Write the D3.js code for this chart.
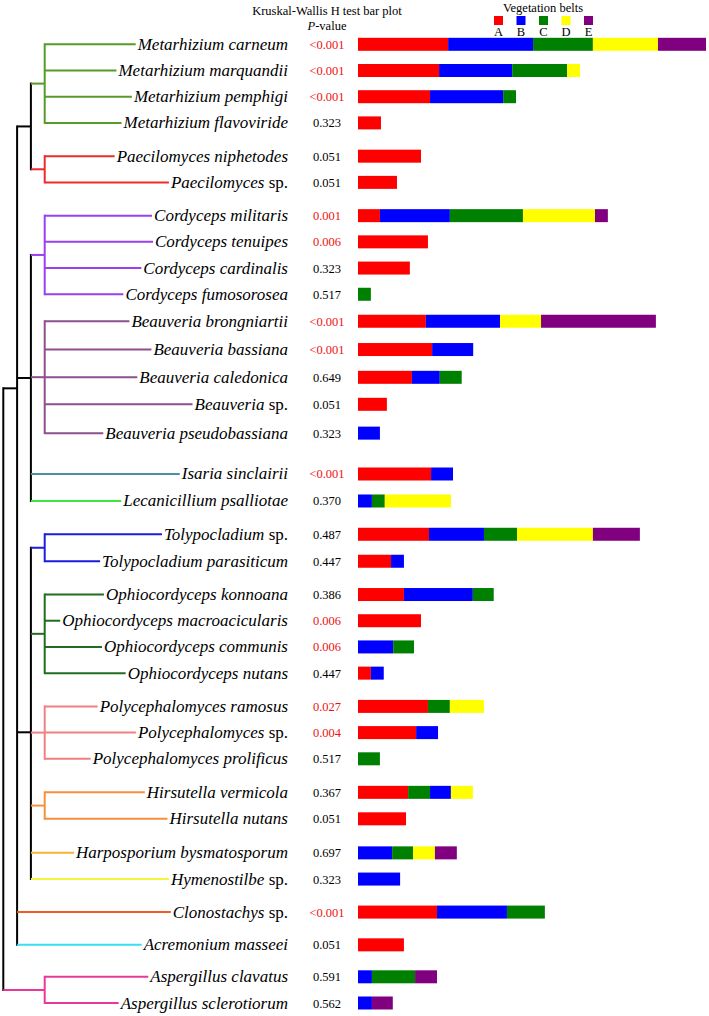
<!DOCTYPE html>
<html><head><meta charset="utf-8">
<script src="https://cdn.jsdelivr.net/npm/d3@7"></script>
<style>body{margin:0;background:#fff}svg{display:block}</style>
</head><body>
<svg id="c" width="709" height="1016"></svg>
<script>
// ---------- DATA ----------
const species = [
 "Metarhizium carneum","Metarhizium marquandii","Metarhizium pemphigi","Metarhizium flavoviride",
 "Paecilomyces niphetodes","Paecilomyces sp.",
 "Cordyceps militaris","Cordyceps tenuipes","Cordyceps cardinalis","Cordyceps fumosorosea",
 "Beauveria brongniartii","Beauveria bassiana","Beauveria caledonica","Beauveria sp.","Beauveria pseudobassiana",
 "Isaria sinclairii","Lecanicillium psalliotae",
 "Tolypocladium sp.","Tolypocladium parasiticum",
 "Ophiocordyceps konnoana","Ophiocordyceps macroacicularis","Ophiocordyceps communis","Ophiocordyceps nutans",
 "Polycephalomyces ramosus","Polycephalomyces sp.","Polycephalomyces prolificus",
 "Hirsutella vermicola","Hirsutella nutans",
 "Harposporium bysmatosporum","Hymenostilbe sp.",
 "Clonostachys sp.","Acremonium masseei",
 "Aspergillus clavatus","Aspergillus sclerotiorum"];
const pValues = ["<0.001","<0.001","<0.001","0.323","0.051","0.051","0.001","0.006","0.323","0.517",
 "<0.001","<0.001","0.649","0.051","0.323","<0.001","0.370","0.487","0.447","0.386","0.006","0.006","0.447",
 "0.027","0.004","0.517","0.367","0.051","0.697","0.323","<0.001","0.051","0.591","0.562"];
const belts = ["A","B","C","D","E"];
const beltA = [25.9,23.3,20.7,6.6,18.1,11.2,6.3,20.1,14.9,0, 19.5,21.3,15.5,8.3,0, 21.0,0, 20.4,9.5, 13.2,18.1,0,3.7, 20.1,16.7,0, 14.4,13.8, 0,0, 22.7,13.2, 0,0];
const beltB = [24.4,21.0,21.0,0,0,0,20.1,0,0,0, 21.3,11.8,8.0,0,6.3, 6.3,4.0, 15.8,3.7, 19.8,0,10.1,3.7, 0,6.3,0, 6.0,0, 9.8,12.1, 20.1,0, 4.0,4.0];
const beltC = [17.2,15.8,3.7,0,0,0,21.0,0,0,3.7, 0,0,6.3,0,0, 0,3.7, 9.5,0, 6.0,0,6.0,0, 6.3,0,6.3, 6.3,0, 6.0,0, 10.9,0, 12.4,0];
const beltD = [18.7,3.7,0,0,0,0,20.7,0,0,0, 11.8,0,0,0,0, 0,19.0, 21.8,0, 0,0,0,0, 9.8,0,0, 6.3,0, 6.3,0, 0,0, 0,0];
const beltE = [13.8,0,0,0,0,0,3.7,0,0,0, 33.0,0,0,0,0, 0,0, 13.5,0, 0,0,0,0, 0,0,0, 0,0, 6.3,0, 0,0, 6.3,6.0];
// stacking order of the belts in each bar (H. vermicola is drawn A, C, B, D)
const stackOrder = species.map(s => s === "Hirsutella vermicola" ? "ACBD" : "ABCDE");
const beltColors = {A:"#ff0000",B:"#0000ff",C:"#008000",D:"#ffff00",E:"#800080"};

// phylogeny (leaves refer to species names)
const tree = {children:[
  {attach:0.32, children:[
    {children:[
      {clade:"#569b27", children:species.slice(0,4).map(n=>({name:n}))},
      {clade:"#ee2a2a", children:species.slice(4,6).map(n=>({name:n}))}
    ]},
    {children:[
      {clade:"#9b40f0", children:species.slice(6,10).map(n=>({name:n}))},
      {clade:"#8e4f8e", children:species.slice(10,15).map(n=>({name:n}))},
      {name:"Isaria sinclairii", clade:"#4a8fa8"},
      {name:"Lecanicillium psalliotae", clade:"#3ce63c"}
    ]},
    {attach:0.557, children:[
      {clade:"#1c1ce0", children:species.slice(17,19).map(n=>({name:n}))},
      {clade:"#1f6e1f", children:species.slice(19,23).map(n=>({name:n}))},
      {clade:"#f28080", children:species.slice(23,26).map(n=>({name:n}))},
      {clade:"#f5913d", children:species.slice(26,28).map(n=>({name:n}))},
      {name:"Harposporium bysmatosporum", clade:"#f6b23a"},
      {name:"Hymenostilbe sp.", clade:"#f4f43a"}
    ]},
    {name:"Clonostachys sp.", clade:"#f25a24"},
    {name:"Acremonium masseei", clade:"#3ae0f0"}
  ]},
  {clade:"#e8389c", children:species.slice(32,34).map(n=>({name:n}))}
]};

// ---------- LAYOUT ----------
// row spacing before each species, in row units (group gaps)
const rowStep = [0,1,1,1,1.27,1,1.27,1,1,1,1.03,1.08,1.06,1.03,1.1,1.56,1.03,1.27,1.03,1.27,1,1,1,1.27,1,1,1.28,1.01,1.3,1,1.26,1.25,1.22,1];
const slots = d3.cumsum(rowStep);
const yRow = d3.scaleLinear().domain([0, slots[slots.length-1]]).range([44.3, 1003]);
const rowY = new Map(species.map((s,i)=>[s, yRow(slots[i])]));

const svg = d3.select("#c");
const serif = "'Liberation Serif','Times New Roman',serif";
const labelRight = 288, pX = 327;
const x = d3.scaleLinear().domain([0,100]).range([358,706]);
const barH = 13;

// ---------- HEADER ----------
svg.append("text").attr("x",pX).attr("y",15).attr("text-anchor","middle")
  .attr("font-family",serif).attr("font-size",12.5).text("Kruskal-Wallis H test bar plot");
const pv = svg.append("text").attr("x",pX).attr("y",30).attr("text-anchor","middle")
  .attr("font-family",serif).attr("font-size",12.5);
pv.append("tspan").attr("font-style","italic").text("P");
pv.append("tspan").text("-value");
svg.append("text").attr("x",543).attr("y",11.5).attr("text-anchor","middle")
  .attr("font-family",serif).attr("font-size",12.5).text("Vegetation belts");
const lx = d3.scalePoint().domain(belts).range([498.5,588.5]);
svg.selectAll(".lg").data(belts).join("rect")
  .attr("x",d=>lx(d)-4.5).attr("y",16).attr("width",9).attr("height",9).attr("fill",d=>beltColors[d]);
svg.selectAll(".lgt").data(belts).join("text")
  .attr("x",d=>lx(d)).attr("y",36).attr("text-anchor","middle")
  .attr("font-family",serif).attr("font-size",12.5).text(d=>d);

// ---------- LABELS ----------
const labelStart = new Map();
species.forEach((s,i)=>{
  const y = rowY.get(s);
  const t = svg.append("text").attr("x",labelRight).attr("y",y+5.5).attr("text-anchor","end")
    .attr("font-family",serif).attr("font-size",17);
  if (s.endsWith(" sp.")) {
    t.append("tspan").attr("font-style","italic").text(s.slice(0,-4));
    t.append("tspan").text(" sp.");
  } else {
    t.append("tspan").attr("font-style","italic").text(s);
  }
  labelStart.set(s, labelRight - t.node().getComputedTextLength());
  svg.append("text").attr("x",pX).attr("y",y+4.5).attr("text-anchor","middle")
    .attr("font-family",serif).attr("font-size",12.5)
    .attr("fill", (pValues[i].startsWith("<") || +pValues[i] < 0.05) ? "#ee1111" : "#000")
    .text(pValues[i]);
});

// ---------- BARS ----------
const beltVals = {A:beltA,B:beltB,C:beltC,D:beltD,E:beltE};
species.forEach((s,i)=>{
  const segs = [];
  let acc = 0;
  stackOrder[i].split("").forEach(b=>{
    const v = beltVals[b][i];
    if (v>0){ segs.push({b, x0:acc, x1:acc+v}); acc+=v; }
  });
  svg.append("g").selectAll("rect").data(segs).join("rect")
    .attr("x",d=>x(d.x0)).attr("width",d=>x(d.x1)-x(d.x0))
    .attr("y",rowY.get(s)-barH/2).attr("height",barH)
    .attr("fill",d=>beltColors[d.b]);
});

// ---------- TREE ----------
const root = d3.hierarchy(tree);
// inherit clade colour downward
root.each(n=>{ n.color = n.data.clade || (n.parent && n.parent.color) || "#000"; });
const hx = d3.scaleLinear().domain([4,1]).range([3.3,44.7]);
root.eachAfter(n=>{
  if (!n.children) { n.yy = rowY.get(n.data.name); }
  else {
    n.top = n.children[0].yy; n.bot = n.children[n.children.length-1].yy;
    const f = n.data.attach != null ? n.data.attach : 0.5;
    n.yy = n.top + f*(n.bot-n.top);
  }
  n.xx = n.children ? hx(n.height) : null;
});
const gT = svg.append("g").attr("fill","none").attr("stroke-width",2).attr("stroke-linecap","square");
root.descendants().forEach(n=>{
  if (n.children) {
    gT.append("line").attr("x1",n.xx).attr("x2",n.xx).attr("y1",n.top).attr("y2",n.bot).attr("stroke",n.color);
  }
  if (n.parent) {
    const x2 = n.children ? n.xx : labelStart.get(n.data.name) - 2;
    gT.append("line").attr("x1",n.parent.xx).attr("x2",x2).attr("y1",n.yy).attr("y2",n.yy)
      .attr("stroke",n.color).attr("stroke-linecap","butt");
  }
});
</script>
</body></html>
